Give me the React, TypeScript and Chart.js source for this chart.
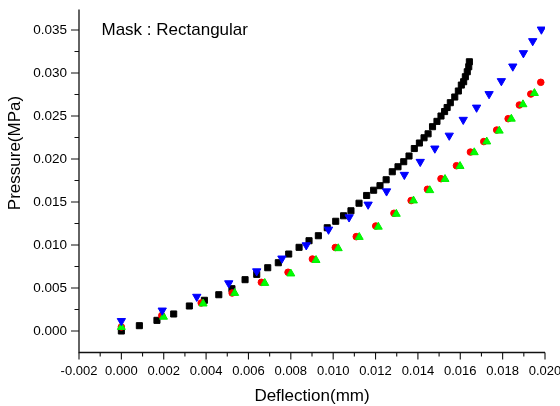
import React, { useEffect, useRef } from "react";
import { Chart, registerables } from "chart.js";

Chart.register(...registerables);

// Axis ranges and labels
const X_MIN = -0.002;
const X_MAX = 0.02;
const Y_MIN = -0.0025;
const Y_MAX = 0.0374;
const X_STEP = 0.002;
const Y_STEP = 0.005;
const X_TITLE = "Deflection(mm)";
const Y_TITLE = "Pressure(MPa)";
const NOTE = "Mask : Rectangular";

// Series: black squares
const blackX = [0, 0.00085, 0.00168, 0.00247, 0.00321, 0.00392, 0.0046, 0.00522, 0.00584, 0.00639, 0.00691, 0.00741, 0.0079, 0.00839, 0.00886, 0.0093, 0.00972, 0.01012, 0.01049, 0.01084, 0.01122, 0.01158, 0.01191, 0.01221, 0.0125, 0.01279, 0.01306, 0.01333, 0.01358, 0.01383, 0.01407, 0.01429, 0.01448, 0.01469, 0.0149, 0.01509, 0.01526, 0.01538, 0.01553, 0.01574, 0.01591, 0.01605, 0.01616, 0.01624, 0.01633, 0.0164, 0.01643];
const blackY = [0, 0.00062, 0.00124, 0.00198, 0.00291, 0.00357, 0.00422, 0.00492, 0.00597, 0.00659, 0.00736, 0.00794, 0.00895, 0.00973, 0.0105, 0.01108, 0.01201, 0.01276, 0.0134, 0.01398, 0.01486, 0.01576, 0.01637, 0.0169, 0.01759, 0.01852, 0.0191, 0.01969, 0.02035, 0.02122, 0.02186, 0.02247, 0.02293, 0.02376, 0.02438, 0.025, 0.02552, 0.02599, 0.02655, 0.02721, 0.02791, 0.0286, 0.02899, 0.02957, 0.03015, 0.03073, 0.03131];

// Series: blue down triangles
const blueX = [0, 0.00193, 0.00356, 0.00507, 0.00639, 0.00758, 0.00873, 0.00978, 0.01075, 0.01165, 0.01252, 0.01336, 0.01411, 0.0148, 0.01548, 0.01614, 0.01677, 0.01736, 0.01794, 0.01848, 0.01898, 0.01942, 0.01983];
const blueY = [0.00117, 0.00239, 0.00399, 0.00556, 0.00695, 0.00844, 0.00998, 0.0118, 0.01323, 0.01471, 0.01625, 0.01817, 0.01968, 0.02123, 0.02273, 0.02457, 0.02599, 0.02756, 0.02907, 0.03077, 0.03232, 0.03372, 0.03507];

// Series: red circles
const redX = [0, 0.00191, 0.00377, 0.00523, 0.00661, 0.00787, 0.00902, 0.0101, 0.01109, 0.01201, 0.01287, 0.01368, 0.01445, 0.01509, 0.01582, 0.01648, 0.01711, 0.01772, 0.01826, 0.01879, 0.01933, 0.0198];
const redY = [0.00047, 0.0018, 0.00326, 0.00442, 0.00566, 0.00683, 0.00837, 0.00971, 0.01097, 0.01221, 0.01369, 0.01517, 0.01648, 0.01771, 0.01922, 0.02081, 0.02203, 0.02337, 0.02469, 0.02628, 0.02756, 0.02892];

// Series: green up triangles
const greenX = [0, 0.00199, 0.00386, 0.00535, 0.00677, 0.008, 0.00919, 0.01024, 0.01123, 0.01213, 0.01298, 0.01379, 0.01456, 0.01528, 0.01599, 0.01666, 0.01725, 0.01784, 0.01841, 0.01896, 0.0195];
const greenY = [0.00045, 0.00164, 0.00318, 0.00441, 0.00557, 0.00667, 0.00824, 0.00961, 0.01092, 0.01211, 0.01361, 0.01516, 0.01636, 0.01766, 0.01917, 0.02077, 0.02202, 0.02328, 0.02467, 0.02635, 0.02766];

const FONT = "'Liberation Sans', Arial, Helvetica, sans-serif";

function pts(xs: number[], ys: number[]) {
  return xs.map((x, i) => ({ x, y: ys[i] }));
}

function fmt(v: number | string) {
  const n = Number(v);
  if (Math.abs(n) < 1e-10) return "0.000";
  return n.toFixed(3);
}

export default function App() {
  const ref = useRef<HTMLCanvasElement>(null);

  useEffect(() => {
    document.body.style.margin = "0";
    const canvas = ref.current;
    if (!canvas) return;

    const decor = {
      id: "originDecor",
      afterDraw(chart: any) {
        const { ctx, chartArea: a, scales } = chart;
        const xs = scales.x;
        const ys = scales.y;
        ctx.save();
        ctx.strokeStyle = "#111";
        ctx.lineWidth = 1.3;
        ctx.beginPath();
        ctx.moveTo(a.left, a.top);
        ctx.lineTo(a.left, a.bottom);
        ctx.lineTo(a.right, a.bottom);
        ctx.stroke();

        ctx.beginPath();
        ctx.lineWidth = 1.1;
        const nx = Math.round((X_MAX - X_MIN) / (X_STEP / 2));
        for (let k = 0; k <= nx; k++) {
          const px = xs.getPixelForValue(X_MIN + (k * X_STEP) / 2);
          const len = k % 2 === 0 ? 7 : 4;
          ctx.moveTo(px, a.bottom);
          ctx.lineTo(px, a.bottom + len);
        }
        const ny = Math.round((Y_MAX - 0) / (Y_STEP / 2));
        for (let k = 0; k <= ny; k++) {
          const v = (k * Y_STEP) / 2;
          if (v > Y_MAX) break;
          const py = ys.getPixelForValue(v);
          const len = k % 2 === 0 ? 8 : 4.5;
          ctx.moveTo(a.left - len, py);
          ctx.lineTo(a.left, py);
        }
        ctx.stroke();

        ctx.fillStyle = "#000";
        ctx.font = `17px ${FONT}`;
        ctx.textAlign = "center";
        ctx.textBaseline = "alphabetic";
        ctx.fillText(X_TITLE, (a.left + a.right) / 2, 401);

        ctx.save();
        ctx.translate(15.5, 153);
        ctx.rotate(-Math.PI / 2);
        ctx.textBaseline = "middle";
        ctx.fillText(Y_TITLE, 0, 0);
        ctx.restore();

        ctx.textAlign = "left";
        ctx.textBaseline = "alphabetic";
        ctx.font = `17px ${FONT}`;
        ctx.fillText(NOTE, 101.5, 35);
        ctx.restore();
      },
    };

    const chart = new Chart(canvas, {
      type: "scatter",
      data: {
        datasets: [
          {
            label: "blue",
            data: pts(blueX, blueY),
            pointStyle: "triangle",
            rotation: 180,
            pointRadius: 4.8,
            pointBackgroundColor: "#0000FF",
            pointBorderColor: "#0000FF",
            pointBorderWidth: 1,
            showLine: false,
          } as any,
          {
            label: "green",
            data: pts(greenX, greenY),
            pointStyle: "triangle",
            pointRadius: 4.6,
            pointBackgroundColor: "#00FF00",
            pointBorderColor: "#00EE00",
            pointBorderWidth: 1,
            showLine: false,
          },
          {
            label: "red",
            data: pts(redX, redY),
            pointStyle: "circle",
            pointRadius: 3.3,
            pointBackgroundColor: "#FF0000",
            pointBorderColor: "#FF0000",
            pointBorderWidth: 1,
            showLine: false,
          },
          {
            label: "black",
            data: pts(blackX, blackY),
            pointStyle: "rect",
            pointRadius: 4.3,
            pointBackgroundColor: "#000000",
            pointBorderColor: "#000000",
            pointBorderWidth: 1,
            showLine: false,
          },
        ],
      },
      options: {
        responsive: false,
        animation: false,
        devicePixelRatio: 1,
        layout: { padding: { top: 9.4, right: 15, left: 0, bottom: 0 } },
        plugins: {
          legend: { display: false },
          tooltip: { enabled: false },
          title: { display: false },
        },
        scales: {
          x: {
            type: "linear",
            min: X_MIN,
            max: X_MAX,
            grid: { display: false, drawTicks: false },
            border: { display: false },
            ticks: {
              stepSize: X_STEP,
              padding: 11,
              color: "#000",
              maxRotation: 0,
              autoSkip: false,
              font: { family: FONT, size: 13 },
              callback: (v: any) => fmt(v),
            },
            afterFit: (s: any) => {
              s.height = 53.5;
              s.paddingLeft = 0;
              s.paddingRight = 0;
            },
          },
          y: {
            type: "linear",
            min: Y_MIN,
            max: Y_MAX,
            grid: { display: false, drawTicks: false },
            border: { display: false },
            ticks: {
              stepSize: Y_STEP,
              includeBounds: false,
              padding: 12,
              color: "#000",
              autoSkip: false,
              font: { family: FONT, size: 13.5 },
              callback: (v: any) => fmt(v),
            },
            afterFit: (s: any) => {
              s.width = 79;
              s.paddingTop = 0;
              s.paddingBottom = 0;
            },
          },
        },
      } as any,
      plugins: [decor],
    });

    return () => chart.destroy();
  }, []);

  return (
    <div style={{ width: 560, height: 406, position: "relative", background: "#fff" }}>
      <canvas ref={ref} width={560} height={406} style={{ display: "block" }} />
    </div>
  );
}
